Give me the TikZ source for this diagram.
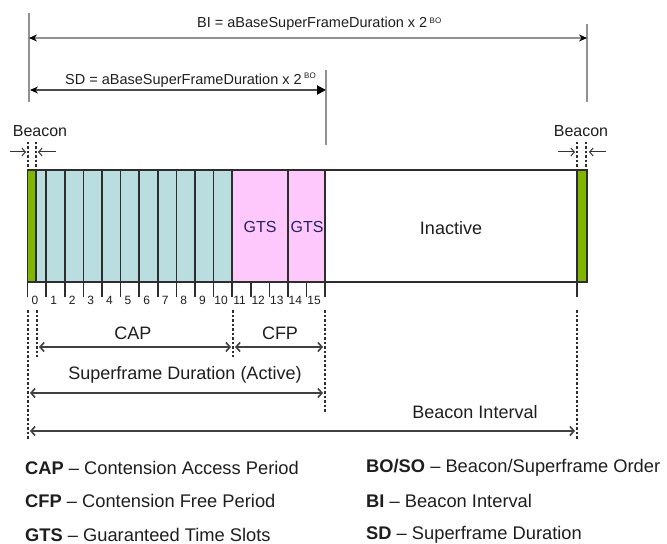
\documentclass[tikz,border=0pt]{standalone}
\usepackage{fontspec}
\setmainfont{Liberation Sans}
\usetikzlibrary{arrows.meta}
\definecolor{beacongreen}{RGB}{128,182,0}
\definecolor{capblue}{RGB}{186,222,224}
\definecolor{gtspink}{RGB}{255,200,252}
\definecolor{framegray}{RGB}{45,45,45}
\definecolor{linegray}{RGB}{145,145,145}
\definecolor{gtsnavy}{RGB}{35,35,100}
\definecolor{txt}{RGB}{30,30,30}
\begin{document}
\begin{tikzpicture}[x=1bp,y=-1bp,
  lbl/.style={font=\fontsize{18bp}{20bp}\selectfont, text=txt, inner sep=0pt},
  smalllbl/.style={font=\fontsize{16bp}{18bp}\selectfont, text=txt, inner sep=0pt},
  num/.style={font=\fontsize{12bp}{13bp}\selectfont, text=txt, inner sep=0pt},
  formula/.style={font=\fontsize{14.5bp}{16bp}\selectfont, text=txt, inner sep=0pt, anchor=base west},
  legend/.style={font=\fontsize{18.3bp}{20bp}\selectfont, text=txt, inner sep=0pt, anchor=west},
  slotline/.style={draw=framegray, line width=1.6bp},
  dotline/.style={draw=framegray, line width=2bp, dash pattern=on 2.5bp off 2bp},
  dimarrow/.style={draw=black!75, line width=1.6bp, {Straight Barb[length=4bp,width=9bp]}-{Straight Barb[length=4bp,width=9bp]}},
  bcnarrow/.style={draw=black!80, line width=1bp, -{Straight Barb[length=3.5bp,width=8bp]}},
  guide/.style={draw=linegray, line width=1.2bp},
  ]
\useasboundingbox (0,0) rectangle (667,544);

% ---- frame ----
\fill[capblue] (36,170) rectangle (233,282);
\fill[gtspink] (232,170) rectangle (325,282);
\fill[beacongreen] (27.5,170) rectangle (36,282);
\fill[beacongreen] (577,170) rectangle (587,282);
\draw[slotline] (27.5,170) rectangle (587,282);
\draw[slotline] (36,170) -- (36,282);
\foreach \i in {1,...,11} \draw[slotline] ({27.5+18.6*\i},170) -- ({27.5+18.6*\i},282);
\draw[slotline] (288,170) -- (288,282);
\draw[slotline] (325,170) -- (325,282);
\draw[slotline] (577,170) -- (577,282);
% ticks and numbers
\foreach \i in {0,...,16} \draw[slotline] ({27.5+18.6*\i},282) -- ({27.5+18.6*\i},297);
\draw[slotline] (577,282) -- (577,297);
\foreach \i in {0,...,15} \node[num] (n\i) at ({27.5+18.6*\i+7.5},300) {\i};

\node[smalllbl, text=gtsnavy] (gts1) at (260,227) {GTS};
\node[smalllbl, text=gtsnavy] (gts2) at (307,227) {GTS};
\node[lbl] (inact) at (451,228) {Inactive};

% ---- top formulas ----
\coordinate (biL) at (29,38);
\coordinate (biR) at (587,38);
\coordinate (sdL) at (30,90);
\coordinate (sdR) at (326,90);
\draw[guide] (29,13) -- (29,102);
\draw[guide] (587,24) -- (587,102);
\draw[guide] (326,70) -- (326,145);
\draw[draw=linegray, line width=1.3bp, {Stealth[length=8bp,width=7bp,black]}-{Stealth[length=8bp,width=7bp,black]}] (biL) -- (biR);
\draw[draw=black!70, line width=2bp, {Stealth[length=8bp,width=7bp,black]}-{Triangle[length=9bp,width=9bp,black]}] (sdL) -- (sdR);
\node[formula] (bitext) at (197,28) {BI = aBaseSuperFrameDuration x 2\,\raisebox{4bp}{\fontsize{8bp}{9bp}\selectfont BO}};
\node[formula] (sdtext) at (65,85) {SD = aBaseSuperFrameDuration x 2\,\raisebox{6bp}{\fontsize{8bp}{9bp}\selectfont BO}};

% ---- beacon markers ----
\node[smalllbl] (bl) at (40,131) {Beacon};
\node[smalllbl] (br) at (581,131) {Beacon};
\draw[dotline] (28,142) -- (28,170);
\draw[dotline] (36,142) -- (36,170);
\draw[dotline] (577,142) -- (577,170);
\draw[dotline] (586,142) -- (586,170);
\coordinate (a1s) at (10,152); \coordinate (a1e) at (26,152);
\coordinate (a2s) at (56,152); \coordinate (a2e) at (38,152);
\coordinate (a3s) at (558,152); \coordinate (a3e) at (575,152);
\coordinate (a4s) at (606,152); \coordinate (a4e) at (589,152);
\draw[bcnarrow] (a1s) -- (a1e);
\draw[bcnarrow] (a2s) -- (a2e);
\draw[bcnarrow] (a3s) -- (a3e);
\draw[bcnarrow] (a4s) -- (a4e);

% ---- lower dimensions ----
\draw[dotline] (28,310) -- (28,440);
\draw[dotline] (37,310) -- (37,357);
\draw[dotline] (233,310) -- (233,357);
\draw[dotline] (325,310) -- (325,412);
\draw[dotline] (577,310) -- (577,440);
\coordinate (capL) at (39,347); \coordinate (capR) at (231,347);
\coordinate (cfpL) at (235,347); \coordinate (cfpR) at (323,347);
\coordinate (sfL) at (30,393); \coordinate (sfR) at (323,393);
\coordinate (bivL) at (30,431); \coordinate (bivR) at (575,431);
\draw[dimarrow] (capL) -- (capR);
\draw[dimarrow] (cfpL) -- (cfpR);
\draw[dimarrow] (sfL) -- (sfR);
\draw[dimarrow] (bivL) -- (bivR);
\node[lbl] (cap) at (133,333) {CAP};
\node[lbl] (cfp) at (280,333) {CFP};
\node[lbl] (sfd) at (185,375) {Superframe Duration (Active)};
\node[lbl] (biv) at (475,412) {Beacon Interval};

% ---- legend ----
\node[legend] (l1) at (25,468) {\textbf{CAP} -- Contension Access Period};
\node[legend] (l2) at (25,501) {\textbf{CFP} -- Contension Free Period};
\node[legend] (l3) at (25,535) {\textbf{GTS} -- Guaranteed Time Slots};
\node[legend] (l4) at (366,468) {\textbf{BO/SO} -- Beacon/Superframe Order};
\node[legend] (l5) at (366,501) {\textbf{BI} -- Beacon Interval};
\node[legend] (l6) at (366,535) {\textbf{SD} -- Superframe Duration};
\end{tikzpicture}
\end{document}
